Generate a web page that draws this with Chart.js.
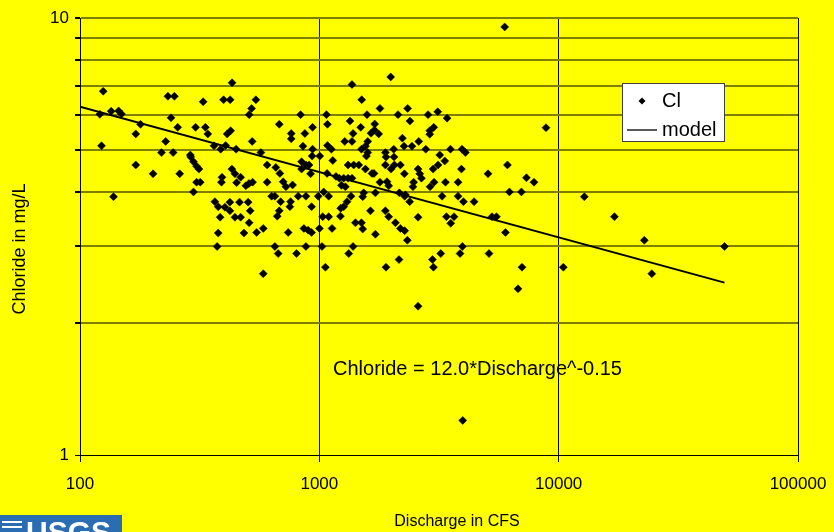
<!DOCTYPE html>
<html><head><meta charset="utf-8">
<script src="https://cdn.jsdelivr.net/npm/chart.js@4/dist/chart.umd.min.js"></script>
<style>html,body{margin:0;padding:0;background:#ffff00;overflow:hidden}#wrap{width:834px;height:532px;position:relative}canvas{display:block}</style>
</head><body><div id="wrap"><canvas id="c" width="834" height="532"></canvas></div>
<script>
const discharge = [
125,233,248,432,327,398,424,521,509,121,
135,145,149,240,179,171,256,304,334,342,
412,426,228,123,363,387,406,449,524,219,
245,289,1987,1369,543,1503,1792,2339,835,1071,
1582,2132,680,1081,1343,1703,2390,937,763,763,
870,1489,1383,1644,1699,1770,854,937,1081,1123,
1277,1369,1593,1499,1558,2223,2258,2045,1888,1593,
570,2846,3124,3417,8851,2893,3007,2893,2602,2438,
2784,3530,3947,4077,3185,171,202,261,290,298,
307,314,307,318,298,392,390,431,444,451,
469,493,508,526,138,366,378,403,423,423,
464,504,514,385,444,469,509,378,484,933,
1004,1573,1899,2051,605,658,684,843,879,906,
843,919,1138,1318,1392,1461,1558,1660,1692,1888,
2059,2181,1993,2267,1077,1174,1213,1264,1318,1369,
1237,1285,605,706,725,773,1792,1917,1949,1715,
1043,1094,632,652,816,879,989,1356,1532,1518,
2160,2273,689,758,753,1305,1264,1228,928,1635,
1888,1949,680,667,1033,1094,1225,1415,1499,1518,
2079,583,862,898,1001,1130,2181,2273,547,741,
928,3342,3134,2987,6107,3924,5068,7332,7887,2585,
2628,2671,2478,2461,3015,2901,3365,3798,2288,2385,
3256,3798,4000,4430,6227,6988,2585,3397,3654,3540,
5266,5495,5991,374,1715,2332,652,673,803,879,
1026,1383,1327,583,1060,1899,2152,3962,3872,3216,
2969,2998,5117,7028,6763,2585,10460,12800,17100,22800,
49300,24500,5950,3974];
const chloride = [
6.80,6.62,6.62,7.11,6.43,6.50,6.50,6.21,6.01,6.02,
6.12,6.13,6.03,5.91,5.71,5.43,5.62,5.62,5.62,5.43,
5.43,5.52,5.22,5.10,5.10,5.01,5.11,5.01,5.22,4.92,
4.92,4.86,7.33,7.04,6.50,6.50,6.21,6.21,6.01,6.01,
6.01,6.01,5.71,5.71,5.81,5.72,5.81,5.62,5.44,5.29,
5.44,5.62,5.44,5.45,5.54,5.43,5.09,5.01,5.11,5.01,
5.22,5.22,5.22,5.01,5.09,5.31,5.09,5.01,4.92,4.92,
4.92,6.01,6.10,5.90,5.61,5.52,5.62,5.42,5.22,5.09,
5.01,5.01,5.01,4.92,4.86,4.61,4.40,4.40,4.81,4.69,
4.58,4.51,4.21,4.21,4.00,4.32,4.21,4.51,4.40,4.20,
4.32,4.13,4.18,4.21,3.90,3.80,3.70,3.69,3.79,3.62,
3.79,3.79,3.62,3.50,3.50,3.50,3.40,3.22,3.22,4.83,
4.83,4.83,4.81,4.81,4.61,4.55,4.41,4.69,4.61,4.61,
4.51,4.40,4.72,4.61,4.61,4.61,4.51,4.41,4.41,4.61,
4.61,4.61,4.51,4.40,4.41,4.34,4.30,4.30,4.30,4.30,
4.14,4.11,4.21,4.22,4.11,4.15,4.21,4.22,4.13,3.98,
4.00,3.91,3.91,3.91,3.91,3.91,3.91,3.91,3.98,3.90,
3.98,3.91,3.80,3.80,3.70,3.80,3.70,3.67,3.70,3.62,
3.62,3.51,3.62,3.52,3.51,3.51,3.52,3.40,3.40,3.29,
3.40,3.30,3.30,3.27,3.30,3.30,3.30,3.26,3.23,3.23,
3.23,4.71,4.61,4.51,4.61,4.51,4.40,4.31,4.21,4.51,
4.40,4.30,4.21,4.11,4.21,4.11,4.21,4.21,3.94,3.80,
3.91,3.91,3.80,3.80,4.00,4.00,3.50,3.51,3.51,3.39,
3.51,3.51,3.23,3.00,3.20,3.10,3.00,2.89,2.89,3.00,
3.00,3.00,2.89,2.60,2.69,2.69,2.80,3.00,2.89,2.89,
2.80,2.69,2.89,2.69,2.40,2.19,2.69,3.90,3.51,3.10,
3.00,2.60,9.54,1.20];
const modelDischarge = [100, 49300];
const modelChloride = [6.27, 2.48];
const xTickValues = [100, 1000, 10000, 100000];
const yTickValues = [1, 2, 3, 4, 5, 6, 7, 8, 9, 10];
const yLabeled = [1, 10];
const seriesNames = ['Cl', 'model'];
const xTitle = 'Discharge in CFS';
const yTitle = 'Chloride in mg/L';
const equationText = 'Chloride = 12.0*Discharge^-0.15';

const FONT = '"Liberation Sans", Arial, sans-serif';

const bgPlugin = {
  id: 'bg',
  beforeDraw(chart) {
    const c = chart.ctx; c.save();
    c.fillStyle = '#ffff00'; c.fillRect(0, 0, chart.width, chart.height);
    c.restore();
  }
};

const decorPlugin = {
  id: 'decor',
  afterDraw(chart) {
    const ctx = chart.ctx;
    ctx.save();
    ctx.fillStyle = '#000';
    ctx.font = '16px ' + FONT;
    ctx.textAlign = 'center'; ctx.textBaseline = 'middle';
    ctx.fillText(xTitle, 457, 522);
    ctx.save();
    ctx.font = '18px ' + FONT;
    ctx.translate(20, 249); ctx.rotate(-Math.PI / 2);
    ctx.fillText(yTitle, 0, 0);
    ctx.restore();

    // equation
    ctx.font = '20px ' + FONT;
    ctx.textAlign = 'left';
    ctx.fillText(equationText, 333, 369);

    // legend
    const lx = 622, ly = 83, lw = 102, lh = 58;
    ctx.fillStyle = '#fff';
    ctx.fillRect(lx, ly, lw, lh);
    ctx.strokeStyle = '#404040'; ctx.lineWidth = 1;
    ctx.strokeRect(lx + 0.5, ly + 0.5, lw, lh);
    ctx.fillStyle = '#000';
    ctx.beginPath();
    ctx.moveTo(642 - 3.5, 101); ctx.lineTo(642, 101 - 3.5); ctx.lineTo(642 + 3.5, 101); ctx.lineTo(642, 101 + 3.5);
    ctx.closePath(); ctx.fill();
    ctx.strokeStyle = '#222'; ctx.lineWidth = 1.5;
    ctx.beginPath(); ctx.moveTo(627, 130); ctx.lineTo(657, 130); ctx.stroke();
    ctx.font = '20px ' + FONT;
    ctx.textAlign = 'left'; ctx.textBaseline = 'middle';
    ctx.fillText(seriesNames[0], 662, 101);
    ctx.fillText(seriesNames[1], 662, 130);

    // logo strip
    ctx.fillStyle = '#2a6db3';
    ctx.fillRect(0, 515, 122, 17);
    ctx.save();
    ctx.beginPath(); ctx.rect(0, 515, 122, 17); ctx.clip();
    ctx.fillStyle = '#fff';
    ctx.font = 'bold 30px ' + FONT;
    ctx.textBaseline = 'top'; ctx.textAlign = 'left';
    ctx.fillText('USGS', 26, 519);
    ctx.fillRect(2, 521, 20, 2); ctx.fillRect(2, 526, 20, 2);
    ctx.restore();
    ctx.restore();
  }
};

const chart = new Chart(document.getElementById('c'), {
  type: 'scatter',
  data: {
    datasets: [
      {
        label: seriesNames[0],
        data: discharge.map((q, i) => ({ x: q, y: chloride[i] })),
        pointStyle: 'rectRot', pointRadius: 4, pointHoverRadius: 4,
        backgroundColor: '#000', borderColor: '#000', borderWidth: 0.5, order: 2
      },
      {
        label: seriesNames[1],
        type: 'line',
        data: modelDischarge.map((q, i) => ({ x: q, y: modelChloride[i] })),
        borderColor: '#000', borderWidth: 2, pointRadius: 0, fill: false, order: 1
      }
    ]
  },
  options: {
    responsive: false, animation: false, devicePixelRatio: 1,
    layout: { padding: { top: 18, right: 36, left: 0, bottom: 0 } },
    plugins: { legend: { display: false }, tooltip: { enabled: false } },
    scales: {
      x: {
        type: 'logarithmic', min: 100, max: 100000, position: 'bottom',
        afterBuildTicks: s => { s.ticks = xTickValues.map(v => ({ value: v })); },
        afterFit: s => { s.height = 77; s.paddingLeft = 0; s.paddingRight = 0; },
        ticks: { callback: v => String(v), color: '#000', font: { size: 17, family: FONT }, padding: 12, maxRotation: 0, autoSkip: false },
        grid: { color: '#000', lineWidth: 1, tickLength: 7, tickColor: '#000' },
        border: { display: true, color: '#000', width: 1 }
      },
      y: {
        type: 'logarithmic', min: 1, max: 10,
        afterBuildTicks: s => { s.ticks = yTickValues.map(v => ({ value: v })); },
        afterFit: s => { s.width = 80; s.paddingTop = 0; s.paddingBottom = 0; },
        ticks: { callback: v => yLabeled.includes(v) ? String(v) : '', color: '#000', font: { size: 17, family: FONT }, padding: 6, autoSkip: false },
        grid: { color: c => (c.tick && c.tick.value === 1) ? '#000' : '#808000', lineWidth: c => (c.tick && c.tick.value === 1) ? 1 : 2, tickLength: 5, tickColor: '#000' },
        border: { display: true, color: '#000', width: 1 }
      }
    }
  },
  plugins: [bgPlugin, decorPlugin]
});
</script>
</body></html>
